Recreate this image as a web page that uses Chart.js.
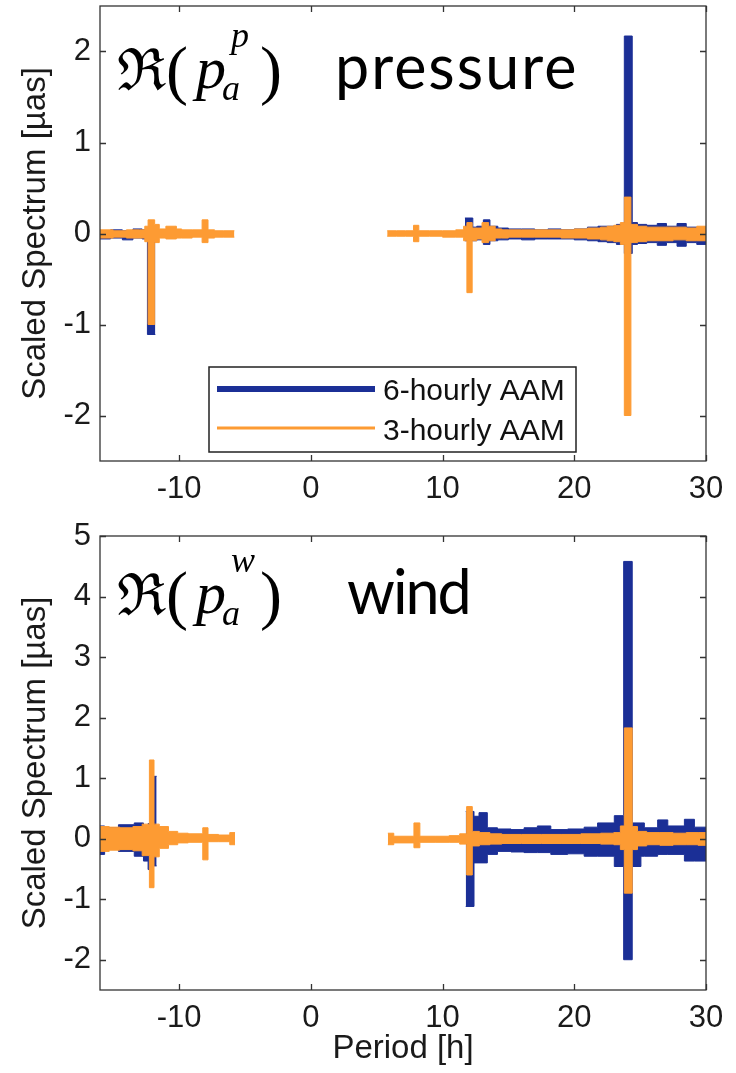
<!DOCTYPE html>
<html>
<head>
<meta charset="utf-8">
<script src="https://cdn.jsdelivr.net/npm/chart.js@4.4.1/dist/chart.umd.min.js"></script>
<style>
  body { margin: 0; width: 736px; height: 1073px; background: #fff; position: relative; overflow: hidden; }
  .wrap { position: absolute; left: 0; width: 736px; }
</style>
</head>
<body>
<div class="wrap" style="top:0;height:500px"><canvas id="chart-pressure"></canvas></div>
<div class="wrap" style="top:500px;height:573px"><canvas id="chart-wind"></canvas></div>
<script>
// axis ticks
const periodTicks = [-10, 0, 10, 20, 30];
const pressureTicks = [-2, -1, 0, 1, 2];
const windTicks = [-2, -1, 0, 1, 2, 3, 4, 5];
const seriesNames = ["6-hourly AAM", "3-hourly AAM"];

// pressure, 6-hourly (envelope: period, upper, lower)
const p6LeftX  = [-16, -15.2, -14.3, -13.5, -12.8, -12.4, -11.8];
const p6LeftHi = [0.03, 0.04, 0.03, 0.05, 0.04, 0.05, 0.05];
const p6LeftLo = [-0.06, -0.05, -0.07, -0.05, -0.06, -1.11, -1.11];
const p6RightX  = [11.7, 12.3, 12.6, 13.1, 13.6, 14.2, 15, 16, 17, 18, 19, 20, 21, 21.8, 22.5, 23.2, 23.8, 24.4, 24.8, 25.5, 26.3, 27, 27.8, 28.5, 29.3, 30];
const p6RightHi = [0.17, 0.07, 0.08, 0.15, 0.08, 0.06, 0.05, 0.05, 0.04, 0.05, 0.04, 0.05, 0.07, 0.08, 0.08, 0.10, 2.17, 0.12, 0.10, 0.09, 0.11, 0.08, 0.11, 0.07, 0.06, 0.06];
const p6RightLo = [-0.08, -0.08, -0.07, -0.12, -0.08, -0.07, -0.06, -0.07, -0.06, -0.06, -0.06, -0.07, -0.08, -0.09, -0.10, -0.12, -0.22, -0.12, -0.11, -0.10, -0.13, -0.10, -0.14, -0.10, -0.12, -0.12];

// pressure, 3-hourly
const p3LeftX  = [-16, -15, -14, -13, -12.6, -12.35, -11.85, -11.5, -11, -10.2, -9.8, -9, -8.25, -7.8, -7.3, -6.6, -5.8];
const p3LeftHi = [0.04, 0.03, 0.04, 0.04, 0.08, 0.15, 0.10, 0.05, 0.08, 0.05, 0.04, 0.04, 0.15, 0.04, 0.03, 0.03, 0.03];
const p3LeftLo = [-0.05, -0.04, -0.05, -0.05, -0.09, -1.0, -0.10, -0.05, -0.06, -0.05, -0.05, -0.04, -0.10, -0.05, -0.04, -0.04, -0.04];
const p3RightX  = [5.8, 6.5, 7.2, 7.8, 8.2, 9, 10, 11, 11.6, 11.85, 12.25, 12.6, 13.0, 13.5, 14.0, 14.5, 15, 16, 17, 18, 19, 20, 21, 22, 22.5, 23, 23.5, 23.8, 24.3, 24.8, 25.5, 26.5, 27.5, 28.5, 29.3, 30];
const p3RightHi = [0.03, 0.03, 0.03, 0.09, 0.03, 0.03, 0.03, 0.04, 0.08, 0.12, 0.06, 0.06, 0.12, 0.08, 0.05, 0.04, 0.04, 0.04, 0.04, 0.04, 0.04, 0.05, 0.06, 0.07, 0.08, 0.09, 0.12, 0.40, 0.10, 0.08, 0.07, 0.07, 0.07, 0.06, 0.08, 0.08];
const p3RightLo = [-0.03, -0.03, -0.03, -0.09, -0.03, -0.03, -0.04, -0.04, -0.08, -0.65, -0.08, -0.06, -0.10, -0.08, -0.05, -0.05, -0.04, -0.04, -0.04, -0.04, -0.05, -0.05, -0.06, -0.07, -0.08, -0.09, -0.12, -2.0, -0.10, -0.09, -0.08, -0.08, -0.07, -0.08, -0.08, -0.08];

// wind, 6-hourly
const w6LeftX  = [-16, -15.65, -14.6, -13.4, -12.7, -12.35, -12.0, -11.7];
const w6LeftHi = [0.21, 0.18, 0.23, 0.26, 0.21, 0.25, 1.03, 1.03];
const w6LeftLo = [-0.26, -0.18, -0.21, -0.29, -0.37, -0.51, -0.45, -0.45];
const w6RightX  = [11.76, 12.39, 12.77, 13.4, 14.17, 15.2, 16.19, 17.2, 18.22, 19.5, 20.75, 21.77, 23.04, 23.75, 24.4, 25.06, 25.32, 26.33, 27.1, 28.36, 29.12, 30];
const w6RightHi = [0.45, 0.37, 0.43, 0.18, 0.16, 0.15, 0.18, 0.21, 0.15, 0.16, 0.19, 0.26, 0.38, 4.58, 0.26, 0.26, 0.18, 0.31, 0.21, 0.32, 0.19, 0.19];
const w6RightLo = [-1.12, -0.40, -0.40, -0.26, -0.21, -0.22, -0.23, -0.23, -0.26, -0.25, -0.29, -0.29, -0.46, -2.0, -0.46, -0.29, -0.29, -0.26, -0.26, -0.37, -0.37, -0.37];

// wind, 3-hourly
const w3LeftX  = [-16, -15.3, -14.5, -13.5, -12.8, -12.25, -11.9, -11.5, -10.8, -10.1, -9.3, -8.2, -7.8, -7.0, -6.15, -5.75];
const w3LeftHi = [0.20, 0.19, 0.18, 0.20, 0.24, 1.30, 0.24, 0.20, 0.12, 0.09, 0.08, 0.18, 0.07, 0.06, 0.10, 0.10];
const w3LeftLo = [-0.21, -0.19, -0.18, -0.20, -0.28, -0.81, -0.30, -0.16, -0.10, -0.07, -0.06, -0.35, -0.05, -0.05, -0.10, -0.10];
const w3RightX  = [5.85, 6.3, 7.83, 8.28, 9.5, 10.5, 11.3, 11.83, 12.26, 12.8, 13.6, 14.5, 16, 17.5, 19, 20.5, 22, 23.0, 23.5, 23.8, 24.4, 24.8, 25.5, 26.5, 27.5, 28.5, 29.4, 30];
const w3RightHi = [0.09, 0.04, 0.26, 0.04, 0.04, 0.05, 0.08, 0.53, 0.12, 0.10, 0.08, 0.07, 0.07, 0.07, 0.07, 0.08, 0.09, 0.10, 0.21, 1.83, 0.20, 0.12, 0.10, 0.10, 0.09, 0.10, 0.10, 0.10];
const w3RightLo = [-0.10, -0.07, -0.15, -0.06, -0.06, -0.06, -0.09, -0.6, -0.12, -0.10, -0.09, -0.08, -0.08, -0.08, -0.08, -0.08, -0.09, -0.10, -0.18, -0.9, -0.18, -0.12, -0.10, -0.11, -0.10, -0.10, -0.11, -0.11];

const BLUE = "#1b2f96";
const ORANGE = "#fd9b33";
const AXIS = "#333333";
const FONT = "'Liberation Sans', Arial, sans-serif";

function band(xs, hi, lo, color, order) {
  const common = { borderColor: color, backgroundColor: color, borderWidth: 1, pointRadius: 0, stepped: true, order: order };
  return [
    Object.assign({ data: xs.map((x, i) => ({ x: x, y: hi[i] })), fill: "+1" }, common),
    Object.assign({ data: xs.map((x, i) => ({ x: x, y: lo[i] })), fill: false }, common)
  ];
}

const boxPlugin = {
  id: "box",
  afterDraw(chart) {
    const { ctx, chartArea: a, scales } = chart;
    ctx.save();
    ctx.strokeStyle = AXIS;
    ctx.lineWidth = 1.3;
    ctx.strokeRect(a.left, a.top, a.right - a.left, a.bottom - a.top);
    ctx.beginPath();
    scales.x.ticks.forEach(t => {
      const px = Math.round(scales.x.getPixelForValue(t.value)) + 0.5;
      ctx.moveTo(px, a.bottom); ctx.lineTo(px, a.bottom - 6);
      ctx.moveTo(px, a.top); ctx.lineTo(px, a.top + 6);
    });
    scales.y.ticks.forEach(t => {
      const py = Math.round(scales.y.getPixelForValue(t.value)) + 0.5;
      ctx.moveTo(a.left, py); ctx.lineTo(a.left + 6, py);
      ctx.moveTo(a.right, py); ctx.lineTo(a.right - 6, py);
    });
    ctx.stroke();
    ctx.restore();
  }
};

// panel label like  R( p_a^x )  word
const labelPlugin = {
  id: "panelLabel",
  afterDraw(chart, args, opts) {
    const ctx = chart.ctx;
    const dy = opts.dy || 0;
    ctx.save();
    ctx.fillStyle = "#000";
    ctx.textBaseline = "alphabetic";
    ctx.textAlign = "left";
    ctx.font = "58px 'DejaVu Serif', serif";
    ctx.fillText("\u211C", 117, 90 + dy);
    ctx.font = "66px 'Liberation Serif', serif";
    ctx.fillText("(", 166, 92 + dy);
    ctx.fillText(")", 260, 92 + dy);
    ctx.font = "italic 60px 'Liberation Serif', serif";
    ctx.fillText("p", 196, 88 + dy);
    ctx.font = "italic 36px 'Liberation Serif', serif";
    ctx.fillText(opts.sup, 231, 47 + dy);
    ctx.fillText("a", 222, 100 + dy);
    ctx.font = "61px Lato, sans-serif";
    ctx.letterSpacing = opts.spacing || "0px";
    ctx.fillText(opts.word, opts.wordX, 89 + dy);
    ctx.letterSpacing = "0px";
    if (opts.legend) {
      const lx = 209, ly = 367, lw = 367, lh = 85;
      ctx.fillStyle = "#fff";
      ctx.fillRect(lx, ly, lw, lh);
      ctx.strokeStyle = "#222";
      ctx.lineWidth = 1.5;
      ctx.strokeRect(lx, ly, lw, lh);
      ctx.lineCap = "butt";
      ctx.beginPath(); ctx.strokeStyle = BLUE; ctx.lineWidth = 6;
      ctx.moveTo(lx + 8, 389); ctx.lineTo(375, 389); ctx.stroke();
      ctx.beginPath(); ctx.strokeStyle = ORANGE; ctx.lineWidth = 3;
      ctx.moveTo(lx + 8, 428); ctx.lineTo(375, 428); ctx.stroke();
      ctx.fillStyle = "#111";
      ctx.font = "30px " + FONT;
      ctx.fillText(seriesNames[0], 383, 400);
      ctx.fillText(seriesNames[1], 383, 440);
    }
    ctx.restore();
  }
};

function makeChart(id, datasets, yMin, yMax, yTicks, showXTitle, padTop, xHeight, label) {
  const ctx = document.getElementById(id).getContext("2d");
  return new Chart(ctx, {
    type: "line",
    data: { datasets: datasets },
    options: {
      responsive: true,
      maintainAspectRatio: false,
      animation: false,
      layout: { padding: { top: padTop, right: 30, left: 0, bottom: 0 } },
      plugins: { legend: { display: false }, tooltip: { enabled: false }, panelLabel: label },
      scales: {
        x: {
          type: "linear",
          min: -16,
          max: 30,
          afterBuildTicks: s => { s.ticks = periodTicks.map(v => ({ value: v })); },
          afterFit: s => { s.height = xHeight; s.paddingLeft = 0; s.paddingRight = 0; },
          grid: { display: false, drawTicks: false },
          border: { display: false },
          ticks: { font: { family: FONT, size: 31 }, color: "#1a1a1a", padding: 10, maxRotation: 0 },
          title: { display: showXTitle, text: "Period [h]", font: { family: FONT, size: 33 }, color: "#1a1a1a", padding: { top: 0, bottom: 4 } }
        },
        y: {
          min: yMin,
          max: yMax,
          afterBuildTicks: s => { s.ticks = yTicks.map(v => ({ value: v })); },
          afterFit: s => { s.width = 100; s.paddingTop = 0; s.paddingBottom = 0; },
          grid: { display: false, drawTicks: false },
          border: { display: false },
          ticks: { font: { family: FONT, size: 31 }, color: "#1a1a1a", padding: 9 },
          title: { display: true, text: "Scaled Spectrum [\u00B5as]", font: { family: FONT, size: 33 }, color: "#1a1a1a", padding: { top: 16, bottom: 0 } }
        }
      }
    },
    plugins: [boxPlugin, labelPlugin]
  });
}

const pressureSets = [].concat(
  band(p6LeftX, p6LeftHi, p6LeftLo, BLUE, 2),
  band(p6RightX, p6RightHi, p6RightLo, BLUE, 2),
  band(p3LeftX, p3LeftHi, p3LeftLo, ORANGE, 1),
  band(p3RightX, p3RightHi, p3RightLo, ORANGE, 1)
);
const windSets = [].concat(
  band(w6LeftX, w6LeftHi, w6LeftLo, BLUE, 2),
  band(w6RightX, w6RightHi, w6RightLo, BLUE, 2),
  band(w3LeftX, w3LeftHi, w3LeftLo, ORANGE, 1),
  band(w3RightX, w3RightHi, w3RightLo, ORANGE, 1)
);

makeChart("chart-pressure", pressureSets, -2.5, 2.5, pressureTicks, false, 6, 39,
  { dy: 0, sup: "p", word: "pressure", wordX: 335, spacing: "2px", legend: true });
makeChart("chart-wind", windSets, -2.5, 5, windTicks, true, 36, 83,
  { dy: 25, sup: "w", word: "wind", wordX: 347, spacing: "-2px", legend: false });
</script>
</body>
</html>
